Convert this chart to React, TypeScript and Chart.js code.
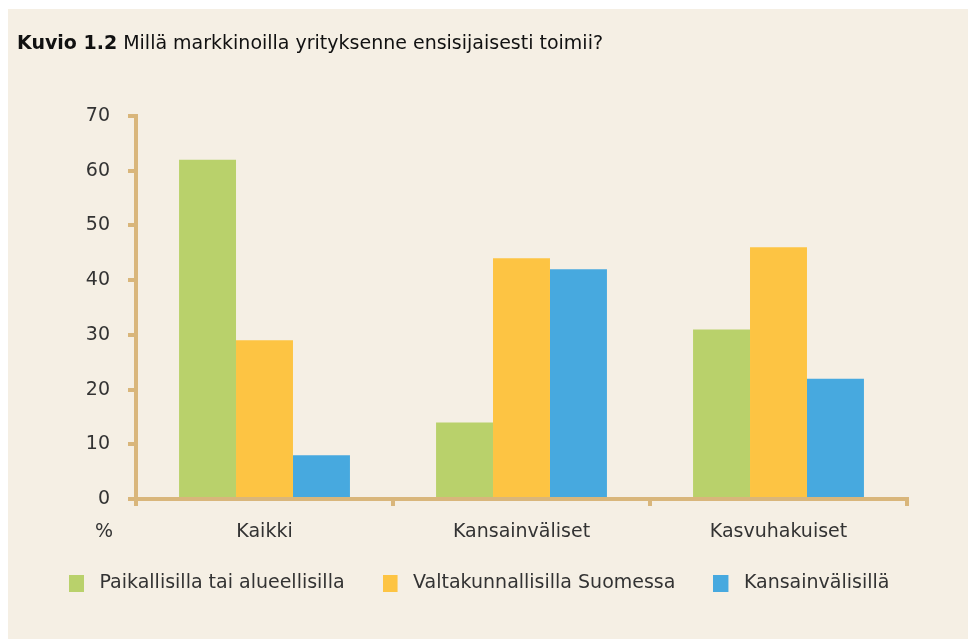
import React, { useEffect, useRef } from "react";
import { Chart, registerables } from "chart.js";

Chart.register(...registerables);

const categories = ["Kaikki", "Kansainväliset", "Kasvuhakuiset"];
const seriesNames = [
  "Paikallisilla tai alueellisilla",
  "Valtakunnallisilla Suomessa",
  "Kansainvälisillä",
];
const paikallisilla = [62, 14, 31];
const valtakunnallisilla = [29, 44, 46];
const kansainvalisilla = [8, 42, 22];
const yMin = 0;
const yMax = 70;
const yStep = 10;
const titleBold = "Kuvio 1.2";
const titleRest = " Millä markkinoilla yrityksenne ensisijaisesti toimii?";
const unitLabel = "%";

const BG = "#f5efe4";
const AXIS = "#d9b67b";
const TEXT = "#333333";
const COLORS = ["#b9d16b", "#fdc443", "#47a9df"];
const FONT = "'DejaVu Sans', sans-serif";
const FS = 19;

const W = 960;
const H = 630;

function legendSwatch(color: string) {
  const c = document.createElement("canvas");
  c.width = 21;
  c.height = 17;
  const g = c.getContext("2d");
  if (g) {
    g.fillStyle = color;
    g.fillRect(0, 0, 15, 17);
  }
  return c;
}

const titlePlugin = {
  id: "mixedTitle",
  afterDraw(chart: any) {
    const ctx = chart.ctx;
    ctx.save();
    ctx.textBaseline = "alphabetic";
    ctx.textAlign = "left";
    ctx.fillStyle = "#111111";
    ctx.font = `bold ${FS}px ${FONT}`;
    ctx.fillText(titleBold, 9, 40);
    const w = ctx.measureText(titleBold).width;
    ctx.font = `${FS}px ${FONT}`;
    ctx.fillText(titleRest, 9 + w, 40);
    ctx.restore();
  },
};

const unitPlugin = {
  id: "unitLabel",
  afterDraw(chart: any) {
    const ctx = chart.ctx;
    const x = chart.scales.x;
    ctx.save();
    ctx.font = `${FS}px ${FONT}`;
    ctx.fillStyle = TEXT;
    ctx.textAlign = "center";
    ctx.textBaseline = "middle";
    ctx.fillText(unitLabel, chart.chartArea.left - 32, x.top + 33);
    ctx.restore();
  },
};

export default function App() {
  const ref = useRef<HTMLCanvasElement | null>(null);

  useEffect(() => {
    if (!ref.current) return;
    const chart = new Chart(ref.current, {
      type: "bar",
      data: {
        labels: categories,
        datasets: [paikallisilla, valtakunnallisilla, kansainvalisilla].map((d, i) => ({
          label: seriesNames[i],
          data: d,
          backgroundColor: COLORS[i],
          borderWidth: 0,
          barPercentage: 1,
          categoryPercentage: 0.665,
          pointStyle: legendSwatch(COLORS[i]),
          yAxisID: "y",
        })),
      },
      options: {
        animation: false,
        responsive: false,
        layout: { padding: { top: 107, right: 0, left: 23, bottom: 36.5 } },
        plugins: {
          title: { display: false },
          tooltip: { enabled: false },
          legend: {
            position: "bottom",
            align: "start",
            title: {
              display: true,
              text: "",
              font: { size: 10 },
              padding: { top: -23.5, bottom: 0 },
            },
            labels: {
              usePointStyle: true,
              pointStyleWidth: 21,
              boxWidth: 21,
              boxHeight: 17,
              padding: 38,
              color: TEXT,
              font: { family: FONT, size: FS },
            },
          },
        },
        scales: {
          x: {
            ticks: { color: TEXT, font: { family: FONT, size: FS }, padding: 15 },
            grid: {
              drawOnChartArea: false,
              drawTicks: true,
              tickLength: 7,
              lineWidth: 4,
              color: AXIS,
              offset: true,
            },
            border: { display: true, width: 4, color: AXIS },
            afterFit: (s: any) => {
              s.height = 48;
            },
          },
          y: {
            min: yMin,
            max: yMax,
            ticks: {
              stepSize: yStep,
              color: TEXT,
              font: { family: FONT, size: FS },
              padding: 18,
            },
            grid: {
              drawOnChartArea: false,
              drawTicks: true,
              tickLength: 8,
              lineWidth: 4,
              color: AXIS,
            },
            border: { display: true, width: 4, color: AXIS },
            afterFit: (s: any) => {
              s.width = 105;
            },
          },
          yRightSpace: {
            position: "right",
            display: true,
            ticks: { display: false },
            grid: { display: false, drawTicks: false },
            border: { display: false },
            afterFit: (s: any) => {
              s.width = 61;
            },
          },
        },
      },
      plugins: [titlePlugin, unitPlugin],
    });
    return () => chart.destroy();
  }, []);

  return (
    <div style={{ position: "absolute", left: 8, top: 9, width: W, height: H, background: BG }}>
      <canvas ref={ref} width={W} height={H} style={{ display: "block" }} />
    </div>
  );
}
